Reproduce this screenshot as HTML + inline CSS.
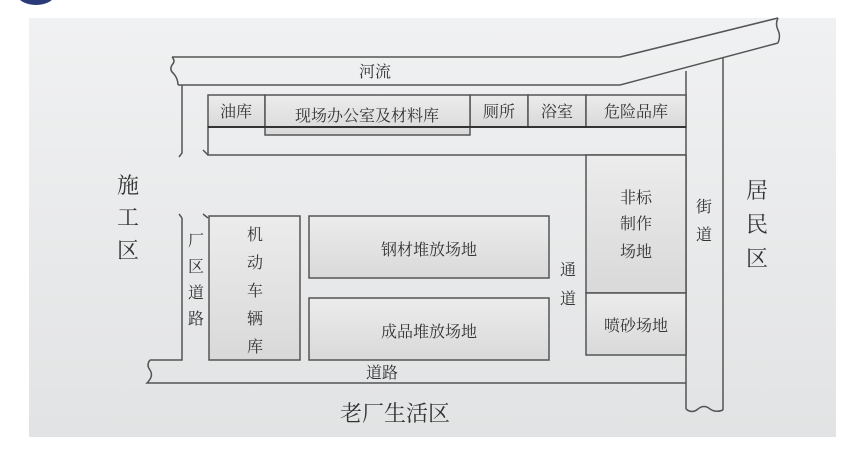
<!DOCTYPE html>
<html><head><meta charset="utf-8"><style>
html,body{margin:0;padding:0;background:#fff;width:865px;height:455px;overflow:hidden}
svg{display:block}
text{font-family:"Liberation Serif","Noto Serif CJK SC","Noto Sans CJK SC",serif;fill:#333}
</style></head><body>
<svg width="865" height="455" viewBox="0 0 865 455">
<defs>
<linearGradient id="bg" x1="0" y1="0" x2="0" y2="1"><stop offset="0" stop-color="#f0f1f2"/><stop offset="1" stop-color="#e2e3e4"/></linearGradient>
<linearGradient id="bx" x1="0" y1="0" x2="0" y2="1"><stop offset="0" stop-color="#ececec"/><stop offset="1" stop-color="#d9d9d9"/></linearGradient>
</defs>
<ellipse cx="36" cy="-6" rx="19" ry="11" fill="#2a3a78"/>
<rect x="29" y="18" width="807" height="419" fill="url(#bg)"/>
<g fill="none" stroke="#555" stroke-width="1.5">
<!-- river -->
<path d="M172,57 L620,57 L778,18"/>
<path d="M178,85 L620,85 L778,43"/>
<path d="M172,57 q4,4 0,8 q-3,5 2,9 q4,5 4,11"/>
<path d="M778,18 q-3,6 0,12 q3,6 0,13"/>
<!-- left road upper -->
<path d="M182,85 L182,153 l-3,4"/>
<path d="M208,127 L208,155 L686,155"/>
<path d="M208,155 l-5,-5"/>
<!-- street -->
<path d="M686,71 L686,409"/>
<path d="M723,58 L723,410"/>
<path d="M686,409 q6,5 12,0 q6,-5 12,0 q6,4 13,1"/>
<!-- left road lower -->
<path d="M182,218 L182,360 L150,360"/>
<path d="M182,218 l-3,-4"/>
<path d="M208,218 l-5,-4"/>
<path d="M150,360 q-4,5 0,10 q4,6 -3,13 L686,383"/>
</g>
<g stroke="#555" stroke-width="1.5" fill="url(#bx)">
<rect x="208" y="95" width="57" height="32"/>
<rect x="470" y="95" width="58" height="32"/>
<rect x="528" y="95" width="58" height="32"/>
<rect x="586" y="95" width="100" height="32"/>
<rect x="265" y="95" width="205" height="40"/>
<rect x="209" y="216" width="91" height="144"/>
<rect x="309" y="216" width="240" height="62"/>
<rect x="309" y="298" width="240" height="62"/>
<rect x="586" y="155" width="100" height="138"/>
<rect x="586" y="293" width="100" height="62"/>
</g>
<line x1="208" y1="127" x2="686" y2="127" stroke="#333" stroke-width="2"/>
<g font-size="16" text-anchor="middle">
<text x="375" y="77">河流</text>
<text x="236" y="117">油库</text>
<text x="367" y="121">现场办公室及材料库</text>
<text x="499" y="117">厕所</text>
<text x="557" y="117">浴室</text>
<text x="636" y="117">危险品库</text>
<text x="429" y="255">钢材堆放场地</text>
<text x="429" y="337">成品堆放场地</text>
<text x="636" y="331">喷砂场地</text>
<text x="636" y="203">非标</text>
<text x="636" y="229">制作</text>
<text x="636" y="257">场地</text>
<text x="255" y="240">机</text>
<text x="255" y="268">动</text>
<text x="255" y="296">车</text>
<text x="255" y="324">辆</text>
<text x="255" y="352">库</text>
<text x="382" y="378">道路</text>
<text x="704" y="212">街</text>
<text x="704" y="240">道</text>
<text x="568" y="275">通</text>
<text x="568" y="304">道</text>
<text x="196" y="246">厂</text>
<text x="196" y="272">区</text>
<text x="196" y="298">道</text>
<text x="196" y="324">路</text>
</g>
<g font-size="22" text-anchor="middle">
<text x="128" y="193">施</text>
<text x="128" y="225">工</text>
<text x="128" y="258">区</text>
<text x="757" y="198">居</text>
<text x="757" y="232">民</text>
<text x="757" y="266">区</text>
<text x="395" y="421">老厂生活区</text>
</g>
</svg>
</body></html>
